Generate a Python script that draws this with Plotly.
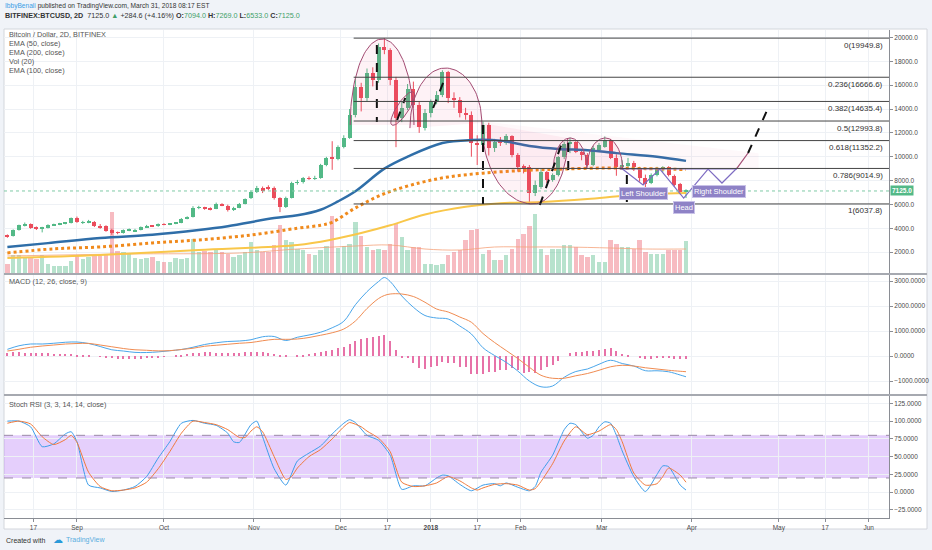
import numpy as np
import pandas as pd
import plotly.graph_objects as go

# 2D candles, BITFINEX:BTCUSD
BAR0 = pd.Timestamp("2017-08-08")
BAR_DAYS = 2

OPEN = [3420, 3350, 3850, 4270, 4350, 4050, 3960, 4030, 4270, 4320,
        4400, 4450, 4850, 4480, 4520, 4560, 4200, 4180, 3850, 3650,
        3600, 3850, 3760, 3860, 4100, 4210, 4170, 4350, 4300, 4380,
        4460, 4800, 4960, 5700, 5760, 5660, 5650, 6000, 5900, 5550,
        5720, 6050, 6500, 7050, 7400, 7420, 7400, 6550, 5800, 6550,
        7800, 7850, 8200, 8150, 8210, 9300, 9900, 9850, 10800, 11600,
        13500, 15850, 14900, 17000, 16400, 19200, 18950, 16400, 13250, 14100,
        15700, 14300, 12450, 13700, 14600, 15150, 17100, 14900, 14780, 13700,
        13500, 11150, 11000, 12650, 10750, 11250, 11150, 11700, 10150, 9180,
        9150, 6950, 7500, 8700, 8050, 8450, 9950, 11100, 11200, 10400,
        10150, 9300, 10600, 10850, 11400, 9900, 9150, 9250, 9500, 9050,
        8250, 7800, 8450, 9000, 9100, 8420, 7700, 7094]
CLOSE = [3300, 3850, 4250, 4350, 4020, 3950, 4020, 4270, 4320, 4400,
         4450, 4850, 4500, 4520, 4560, 4150, 4080, 3800, 3640, 3600,
         3850, 3900, 3860, 4100, 4200, 4170, 4350, 4300, 4380, 4460,
         4800, 4960, 5700, 5760, 5660, 5600, 6000, 5920, 5500, 5720,
         6050, 6450, 7050, 7400, 7150, 7320, 6550, 5800, 6550, 7800,
         7860, 8200, 8150, 8210, 9300, 9900, 9850, 10800, 11600, 13500,
         15850, 14900, 17000, 16400, 19200, 18950, 16400, 13250, 14100, 15700,
         14300, 12500, 13650, 14600, 15150, 17100, 14900, 14780, 13650, 13500,
         11150, 11000, 12650, 10700, 11250, 11150, 11700, 10150, 9150, 9100,
         6950, 7600, 8700, 8050, 8450, 9950, 11100, 11200, 10400, 10150,
         9300, 10750, 11000, 11400, 9900, 9150, 9250, 9500, 9100, 8200,
         7700, 8450, 9050, 9100, 8450, 7650, 7050, 7125]
HIGH = [3480, 3900, 4300, 4480, 4400, 4150, 4120, 4330, 4380, 4450,
        4520, 4900, 4980, 4620, 4700, 4600, 4350, 4250, 3950, 3720,
        3900, 3980, 3950, 4150, 4280, 4260, 4400, 4420, 4430, 4520,
        4850, 5000, 5850, 5880, 5800, 5750, 6150, 6100, 5980, 5800,
        6120, 6500, 7150, 7550, 7500, 7600, 7500, 6600, 6650, 7900,
        8050, 8300, 8350, 8400, 9400, 9990, 11300, 10950, 11800, 14000,
        16500, 16200, 17400, 17500, 19500, 19950, 19100, 16700, 14600, 16100,
        16300, 14600, 14000, 14800, 15500, 17250, 17200, 15400, 15000, 14100,
        13800, 11800, 12950, 12850, 11500, 11650, 11900, 11800, 10300, 9350,
        9300, 8000, 8950, 8800, 8600, 10050, 11250, 11600, 11300, 10600,
        10300, 10900, 11150, 11700, 11500, 10200, 9700, 9900, 9650, 9150,
        8500, 8600, 9150, 9200, 9200, 8500, 7800, 7269]
LOW = [3200, 3300, 3800, 4150, 3950, 3850, 3650, 3980, 4200, 4260,
       4330, 4400, 4450, 4350, 4420, 4100, 3950, 3700, 3450, 3500,
       3550, 3750, 3680, 3820, 4050, 4100, 4120, 4250, 4260, 4340,
       4420, 4750, 4900, 5600, 5550, 5500, 5600, 5850, 5400, 5450,
       5680, 6000, 6450, 6950, 6950, 7200, 6400, 5350, 5700, 6500,
       7650, 7750, 8050, 8050, 8150, 9200, 8900, 9700, 10700, 11500,
       13300, 13800, 14600, 15900, 16200, 18600, 16000, 10800, 12900, 13900,
       14100, 12000, 12200, 13300, 14400, 15000, 14500, 14100, 13300, 13100,
       10000, 9300, 10900, 10100, 10400, 10900, 11000, 9950, 8750, 8600,
       6040, 6700, 7300, 7800, 7900, 8350, 9800, 10300, 10300, 9700,
       9200, 9200, 10450, 10750, 9800, 8400, 8900, 9100, 8800, 7900,
       7300, 7700, 8350, 8700, 8350, 7500, 6850, 6533]
# thousand BTC
VOLUME = [20, 38, 38, 34, 34, 30, 38, 20, 16, 16,
          16, 26, 38, 30, 34, 38, 36, 38, 124, 46,
          44, 40, 32, 30, 32, 34, 26, 24, 24, 32,
          30, 32, 70, 44, 46, 44, 48, 44, 40, 34,
          38, 44, 64, 48, 44, 44, 58, 98, 68, 64,
          50, 48, 40, 38, 48, 56, 116, 52, 56, 60,
          104, 76, 54, 48, 50, 48, 60, 100, 74, 48,
          54, 54, 20, 20, 18, 20, 38, 44, 48, 68,
          88, 90, 40, 48, 28, 28, 38, 50, 70, 80,
          96, 120, 50, 38, 50, 50, 58, 58, 54, 38,
          34, 38, 24, 24, 68, 60, 54, 54, 50, 68,
          44, 40, 40, 40, 48, 48, 48, 66]

# indicator readings, sampled at bar indices
EMA50_IDX = [0, 7, 16, 25, 33, 38, 46, 50, 54, 57, 60, 65, 69, 75, 80, 85, 90, 95, 100, 105, 112, 117]
EMA50 = [2430, 2750, 3180, 3450, 3850, 4170, 4850, 5080, 5550, 6250, 7100, 9000,
         10000, 11150, 11400, 11350, 10900, 10650, 10550, 10300, 10000, 9650]
EMA100_IDX = [0, 8, 16, 25, 33, 42, 50, 54, 56, 60, 65, 71, 76, 82, 89, 95, 103, 110, 117]
EMA100 = [1930, 2270, 2430, 2770, 3020, 3430, 4000, 4250, 4500, 5700, 6900, 7800,
          8300, 8620, 8850, 8950, 9050, 9000, 8920]
EMA200_IDX = [0, 16, 33, 50, 56, 61, 66, 72, 79, 85, 92, 100, 107, 117]
EMA200 = [1500, 1750, 2170, 2590, 3050, 3600, 4250, 5150, 5800, 6100, 6200, 6450, 6750, 6950]
VOLMA_IDX = [0, 20, 40, 50, 60, 66, 72, 78, 84, 90, 96, 104, 110, 117]
VOLMA = [36, 40, 42, 50, 56, 58, 50, 48, 54, 54, 54, 52, 50, 50]

MACD_IDX = [0, 2, 4, 6, 8, 10, 12, 14, 16, 18, 20, 22, 24, 26, 28, 30, 32, 34, 36, 38,
            40, 42, 44, 46, 48, 50, 52, 54, 56, 58, 60, 62, 64, 65, 66, 68, 70, 72, 74, 76,
            78, 80, 82, 84, 86, 88, 90, 92, 94, 96, 98, 100, 102, 104, 106, 108, 110, 112,
            114, 116, 117]
MACD = [267, 410, 480, 480, 510, 550, 560, 500, 380, 250, 200, 145, 140, 165, 210, 260,
        350, 460, 530, 580, 600, 650, 770, 780, 620, 750, 840, 950, 1130, 1390, 2050,
        2573, 2980, 3140, 2980, 2400, 1950, 1620, 1520, 1480, 1200, 880, 330, 20, -250,
        -600, -1000, -1230, -1200, -850, -620, -520, -330, -170, -300, -400, -587, -590,
        -630, -760, -830]
SIGNAL = [200, 270, 350, 400, 440, 480, 500, 505, 440, 370, 300, 250, 230, 205, 215,
          260, 310, 390, 430, 470, 510, 540, 610, 667, 667, 680, 740, 830, 930, 1080,
          1400, 1900, 2300, 2420, 2480, 2480, 2380, 2150, 1880, 1760, 1560, 1350, 900,
          540, 220, -100, -450, -770, -890, -890, -790, -700, -570, -430, -370, -400,
          -470, -520, -570, -610, -627]
HIST = [130, 150, 150, 140, 140, 130, 120, 110, 100, 100, 90, 80, 60, 40, 20, 0, -20,
        -50, -80, -100, -110, -120, -110, -100, -80, -60, -40, -10, 0, 20, 50,
        80, 110, 140, 150, 150, 140, 130, 120, 120, 130, 150, 170, 170, 150, 120, 80, 40,
        10, 0, 20, 50, 80, 110, 150, 200, 260, 320, 380,
        500, 620, 680, 720, 760, 820, 840, 600, 240, -50, -93, -290, -490, -530, -450,
        -400, -227, -270, -290, -427, -450, -720, -720, -700, -627, -650, -560, -540,
        -493, -540, -667, -640, -693, -560, -427, -360, -187, 0, 133, 173, 180, 200,
        210, 240, 280, 307, 213, 80, 27, 0, -53, -133, -110, -90, -60, -80, -107, -110, -133]

K_IDX = [0, 2, 4, 6, 8, 10, 11, 12, 14, 16, 18, 20, 22, 24, 26, 28, 30, 32, 34, 36, 38,
         39, 40, 42, 43, 44, 46, 48, 50, 52, 54, 56, 58, 59, 60, 62, 64, 66, 68, 70, 72,
         74, 75, 76, 78, 80, 82, 84, 85, 86, 88, 90, 91, 92, 94, 96, 97, 98, 100, 101,
         102, 103, 104, 105, 106, 108, 110, 112, 113, 114, 116, 117]
STOCH_K = [100, 100, 92, 64, 68, 82, 85, 71, 10, 6, 1, 3, 8, 22, 48, 71, 97, 101, 97,
           94, 83, 71, 70, 95, 100, 78, 33, 10, 44, 55, 65, 82, 97, 102, 98, 80, 73, 52,
           4, 9, 9, 20, 24, 23, 11, 2, 10, 12, 9, 13, 7, 2, 8, 28, 52, 88, 97, 95, 76,
           80, 92, 99, 97, 80, 58, 22, 1, 25, 37, 36, 10, 3]
D_IDX = [0, 2, 4, 6, 8, 10, 11, 12, 14, 16, 18, 20, 22, 24, 26, 28, 30, 32, 34, 36, 38,
         40, 41, 42, 43, 44, 46, 48, 49, 50, 52, 54, 56, 58, 59, 61, 62, 64, 66, 68, 70,
         72, 74, 76, 78, 79, 80, 81, 82, 84, 86, 88, 90, 91, 92, 94, 96, 98, 100, 102,
         104, 105, 106, 108, 110, 112, 113, 114, 116, 117]
STOCH_D = [97, 100, 96, 78, 67, 74, 80, 70, 28, 8, 2, 3, 6, 14, 33, 57, 83, 100, 98,
           95, 88, 77, 77, 86, 92, 85, 50, 18, 22, 34, 50, 60, 75, 92, 98, 92, 86, 76,
           57, 14, 8, 9, 13, 22, 16, 11, 6, 3, 6, 11, 12, 10, 3, 5, 15, 40, 72, 92, 81,
           86, 95, 88, 71, 27, 10, 12, 22, 34, 24, 14]

FIB_RATIOS = ["0", "0.236", "0.382", "0.5", "0.618", "0.786", "1"]
FIB_PRICES = [19949.8, 16666.6, 14635.4, 12993.8, 11352.2, 9014.9, 6037.8]
FIB_START = 59.7
LAST_PRICE = 7125.0

TICK_DATES = ["2017-08-17", "2017-09-01", "2017-10-01", "2017-11-01", "2017-12-01",
              "2017-12-17", "2018-01-01", "2018-01-17", "2018-02-01", "2018-03-01",
              "2018-04-01", "2018-05-01", "2018-05-17", "2018-06-01"]
TICK_TEXT = ["17", "Sep", "Oct", "Nov", "Dec", "17", "<b>2018</b>", "17", "Feb", "Mar",
             "Apr", "May", "17", "Jun"]
X_RANGE = ["2017-08-06 20:00", "2018-06-08"]

UP = "#53b987"
DOWN = "#eb4d5c"
GRID = "#eef1f5"
AXIS = "#8a8d94"
FONT = "Liberation Sans"
DAY_MS = 86400000


def bar_time(i):
    return BAR0 + pd.Timedelta(days=BAR_DAYS * float(i))


def times(idx):
    return [bar_time(i) for i in idx]


def px(xp):
    return (xp - 4) / 885


def py(yp):
    return (518 - yp) / 488


def arc(i_left, i_mid, i_right, p_left, p_mid, p_right, n=30):
    t1 = np.linspace(0, np.pi / 2, n)
    t2 = np.linspace(np.pi / 2, np.pi, n)
    i = np.concatenate([i_mid - (i_mid - i_left) * np.cos(t1),
                        i_mid - (i_right - i_mid) * np.cos(t2)])
    p = np.concatenate([p_left + (p_mid - p_left) * np.sin(t1),
                        p_right + (p_mid - p_right) * np.sin(t2)])
    return i, p


def tilted_ellipse(ci, cp, ai, ap, bi, bp, n=60):
    t = np.linspace(0, 2 * np.pi, n)
    return ci + ai * np.cos(t) + bi * np.sin(t), cp + ap * np.cos(t) + bp * np.sin(t)


dates = times(range(len(CLOSE)))
rising = [c >= o for o, c in zip(OPEN, CLOSE)]
vol_colors = ["rgba(83,185,135,0.42)" if r else "rgba(235,77,92,0.38)" for r in rising]

fig = go.Figure()

# price pane: volume underneath, then candles and EMAs
fig.add_trace(go.Bar(x=dates, y=VOLUME, marker_color=vol_colors, marker_line_width=0,
                     width=1.5 * DAY_MS, yaxis="y", xaxis="x", hoverinfo="skip"))
fig.add_trace(go.Scatter(x=times(VOLMA_IDX), y=VOLMA, mode="lines", yaxis="y", xaxis="x",
                         line=dict(color="#f5a27a", width=0.8, shape="spline"), hoverinfo="skip"))

for up, color in [(True, UP), (False, DOWN)]:
    keep = [k for k in range(len(CLOSE)) if rising[k] == up]
    wick_x, wick_y = [], []
    for k in keep:
        wick_x += [dates[k], dates[k], None]
        wick_y += [LOW[k], HIGH[k], None]
    fig.add_trace(go.Scatter(x=wick_x, y=wick_y, mode="lines", yaxis="y2", xaxis="x",
                             line=dict(color=color, width=1), hoverinfo="skip"))
    fig.add_trace(go.Bar(x=[dates[k] for k in keep],
                         y=[abs(CLOSE[k] - OPEN[k]) for k in keep],
                         base=[min(OPEN[k], CLOSE[k]) for k in keep],
                         width=1.35 * DAY_MS, marker_color=color, marker_line_width=0,
                         yaxis="y2", xaxis="x", hoverinfo="skip"))

fig.add_trace(go.Scatter(x=times(EMA200_IDX), y=EMA200, mode="lines", yaxis="y2",
                         line=dict(color="#f9c74a", width=2, shape="spline"), hoverinfo="skip"))
fig.add_trace(go.Scatter(x=times(EMA100_IDX), y=EMA100, mode="lines", yaxis="y2",
                         line=dict(color="#f08a1c", width=3, dash="dot", shape="spline"),
                         hoverinfo="skip"))
fig.add_trace(go.Scatter(x=times(EMA50_IDX), y=EMA50, mode="lines", yaxis="y2",
                         line=dict(color="#2f6ea8", width=2.5, shape="spline"), hoverinfo="skip"))


def draw(i, p, color, width=1.0, dash="solid", fill=None, fillcolor=None):
    fig.add_trace(go.Scatter(x=times(i), y=list(p), mode="lines", yaxis="y2", xaxis="x",
                             line=dict(color=color, width=width, dash=dash),
                             fill=fill, fillcolor=fillcolor, hoverinfo="skip"))


# drawings on the price pane
PINK_FILL = "rgba(236,64,122,0.07)"
ARC_LINE = "#a24b72"
draw([81.5, 129.5, 129.5, 81.5], [13000, 10300, 8900, 8900], "rgba(0,0,0,0)", 0,
     fill="toself", fillcolor="rgba(236,64,122,0.04)")
for a in [(59.1, 64.6, 70.1, 12660, 19874, 12660),
          (69.4, 75.5, 81.8, 12400, 17440, 12830),
          (81.8, 90.6, 96.6, 12830, 6030, 11570),
          (94.1, 97.0, 99.9, 8880, 11570, 9050),
          (99.9, 103.1, 106.1, 9050, 11570, 8880)]:
    ai, ap = arc(*a)
    draw(ai, ap, ARC_LINE, 1, fill="toself", fillcolor=PINK_FILL)
li, lp = tilted_ellipse(68.15, 14045, 1.85, 1385, 0.87, -270)
draw(li, lp, ARC_LINE, 1, fill="toself", fillcolor=PINK_FILL)

ZIG_I = [105.6, 109.6, 112.5, 116.6, 120.8, 123.2, 125.8]
ZIG_P = [9135, 7625, 8967, 6534, 8967, 7792, 9051]
draw(ZIG_I, ZIG_P, "#7e6cc2", 1.2)
draw([105.6, 125.8], [8967, 8967], "#7e6cc2", 1.2)
draw([125.8, 127.7], [9051, 10310], ARC_LINE, 1.2)

DASHES = [(63.7, 19371, 63.7, 12911), (82.0, 12660, 82.0, 6040),
          (67.2, 13078, 68.6, 14924), (73.4, 14086, 75.6, 16770),
          (91.8, 5947, 95.8, 11401), (96.7, 11150, 96.7, 8880),
          (106.8, 8470, 106.8, 6200), (127.7, 10310, 131.0, 13917)]
for i0, p0, i1, p1 in DASHES:
    draw([i0, i1], [p0, p1], "#111111", 2, dash="dash")

# MACD pane
fig.add_trace(go.Bar(x=dates, y=HIST, marker_color="#e772a8", marker_line_width=0,
                     width=0.4 * DAY_MS, xaxis="x2", yaxis="y3", hoverinfo="skip"))
fig.add_trace(go.Scatter(x=times(MACD_IDX), y=MACD, mode="lines", xaxis="x2", yaxis="y3",
                         line=dict(color="#4aa6ea", width=1, shape="spline"), hoverinfo="skip"))
fig.add_trace(go.Scatter(x=times(MACD_IDX), y=SIGNAL, mode="lines", xaxis="x2", yaxis="y3",
                         line=dict(color="#f08c52", width=1, shape="spline"), hoverinfo="skip"))

# Stoch RSI pane
fig.add_trace(go.Scatter(x=times(K_IDX), y=STOCH_K, mode="lines", xaxis="x3", yaxis="y4",
                         line=dict(color="#3d9eea", width=1, shape="spline", smoothing=0.6),
                         hoverinfo="skip"))
fig.add_trace(go.Scatter(x=times(D_IDX), y=STOCH_D, mode="lines", xaxis="x3", yaxis="y4",
                         line=dict(color="#f07a3c", width=1, shape="spline", smoothing=0.6),
                         hoverinfo="skip"))

tick_font = dict(family=FONT, size=6.5, color="#4a4a4a")
right_axis = dict(side="right", showgrid=True, gridcolor=GRID, zeroline=False,
                  ticks="outside", ticklen=3, tickcolor=AXIS, showline=True,
                  linecolor=AXIS, linewidth=1, tickfont=tick_font, fixedrange=True)
x_common = dict(type="date", range=X_RANGE, tickvals=TICK_DATES, showgrid=True,
                gridcolor=GRID, zeroline=False, rangeslider=dict(visible=False))

shapes = [
    dict(type="rect", xref="paper", yref="paper", x0=px(4), x1=px(927), y0=py(529), y1=py(29),
         fillcolor="white", line=dict(color="#d3d6dc", width=1), layer="below"),
    dict(type="rect", xref="paper", yref="y4", x0=0, x1=1, y0=20, y1=80,
         fillcolor="rgba(175,110,245,0.33)", line=dict(width=0), layer="below"),
    dict(type="line", xref="paper", yref="y4", x0=0, x1=1, y0=80, y1=80,
         line=dict(color="#9a8aa6", width=1, dash="dash")),
    dict(type="line", xref="paper", yref="y4", x0=0, x1=1, y0=20, y1=20,
         line=dict(color="#9a8aa6", width=1, dash="dash")),
    dict(type="line", xref="paper", yref="y2", x0=0, x1=1, y0=LAST_PRICE, y1=LAST_PRICE,
         line=dict(color="#7fcaa6", width=1, dash="dot")),
    dict(type="line", xref="paper", yref="paper", x0=px(4), x1=px(927), y0=py(274), y1=py(274),
         line=dict(color="#a6a9b0", width=2)),
    dict(type="line", xref="paper", yref="paper", x0=px(4), x1=px(927), y0=py(395), y1=py(395),
         line=dict(color="#a6a9b0", width=2)),
]
for price in FIB_PRICES:
    shapes.append(dict(type="line", xref="x", yref="y2", x0=bar_time(FIB_START), x1=X_RANGE[1],
                       y0=price, y1=price, line=dict(color="#444444", width=1)))

annotations = []


def label(xp, yp, text, size=7, color="#555555", anchor="left"):
    annotations.append(dict(xref="paper", yref="paper", x=px(xp), y=py(yp), text=text,
                            showarrow=False, xanchor=anchor, yanchor="middle",
                            font=dict(family=FONT, size=size, color=color)))


GREEN = "#3f9f68"
label(3, 6, "<span style='color:#3a9ee6'>IbbyBenali</span> published on TradingView.com, "
            "March 31, 2018 08:17 EST", size=6.6, color="#333333")
label(3, 16, f"<b>BITFINEX:BTCUSD, 2D</b>  7125.0 <span style='color:{GREEN}'>▲</span> "
             f"+284.6 (+4.16%) <b>O:</b><span style='color:{GREEN}'>7094.0</span> "
             f"<b>H:</b><span style='color:{GREEN}'>7269.0</span> "
             f"<b>L:</b><span style='color:{GREEN}'>6533.0</span> "
             f"<b>C:</b><span style='color:{GREEN}'>7125.0</span>", size=7.2, color="#333333")
for yp, text in [(34, "Bitcoin / Dollar, 2D, BITFINEX"), (43, "EMA (50, close)"),
                 (53, "EMA (200, close)"), (62, "Vol (20)"), (71, "EMA (100, close)")]:
    label(7, yp, text, size=7.3, color="#555555")
label(7, 281, "MACD (12, 26, close, 9)", size=7.3)
label(7, 404, "Stoch RSI (3, 3, 14, 14, close)", size=7.3)
label(4, 540, "Created with", size=7, color="#333333")
label(51, 539, "☁", size=10, color="#2a9ad9")
label(64, 540, "TradingView", size=7, color="#5aaee0")

for ratio, price in zip(FIB_RATIOS, FIB_PRICES):
    annotations.append(dict(xref="paper", yref="y2", x=px(885), y=price,
                            text=f"{ratio}({price:.1f})", showarrow=False,
                            xanchor="right", yanchor="top", yshift=-0.5,
                            font=dict(family=FONT, size=8, color="#333333")))
annotations.append(dict(xref="paper", yref="y2", x=1.0, y=LAST_PRICE, text="<b>7125.0</b>",
                        showarrow=False, xanchor="left", yanchor="middle", xshift=1,
                        bgcolor=UP, borderpad=1, font=dict(family=FONT, size=6.5, color="white")))
for i, p, text in [(109.6, 6953, "Left Shoulder"), (116.6, 5779, "Head"),
                   (122.7, 7121, "Right Shoulder")]:
    annotations.append(dict(xref="x", yref="y2", x=bar_time(i), y=p, text=text,
                            showarrow=False, bgcolor="#8e82c6", bordercolor="#c9c2e8",
                            borderwidth=1, borderpad=1,
                            font=dict(family=FONT, size=7.5, color="white")))

fig.update_layout(
    width=932, height=550,
    margin=dict(l=4, r=43, t=30, b=32),
    paper_bgcolor="#f0f3f8", plot_bgcolor="white",
    showlegend=False, barmode="overlay", bargap=0, hovermode=False,
    xaxis=dict(domain=[0, 1], anchor="y", showticklabels=False, ticks="", **x_common),
    xaxis2=dict(matches="x", anchor="y3", showticklabels=False, ticks="", **x_common),
    xaxis3=dict(matches="x", anchor="y4", ticktext=TICK_TEXT, ticks="outside", ticklen=3,
                tickcolor=AXIS, showline=True, linecolor=AXIS, tickfont=tick_font, **x_common),
    yaxis=dict(domain=[0.5, 1], range=[0, 488], visible=False, fixedrange=True),
    yaxis2=dict(overlaying="y", anchor="x", range=[160, 20630],
                tickvals=list(range(2000, 20001, 2000)), tickformat=".1f", **right_axis),
    yaxis3=dict(domain=[0.252, 0.5], anchor="x2", range=[-1560, 3280],
                tickvals=[-1000, 0, 1000, 2000, 3000], tickformat=".4f", **right_axis),
    yaxis4=dict(domain=[0, 0.252], anchor="x3", range=[-36.3, 136.7],
                tickvals=[-25, 0, 25, 50, 75, 100, 125], tickformat=".4f", **right_axis),
    shapes=shapes, annotations=annotations,
)

fig.write_html("out.html", config={"displayModeBar": False},
               post_script="document.body.style.margin='0px';")
